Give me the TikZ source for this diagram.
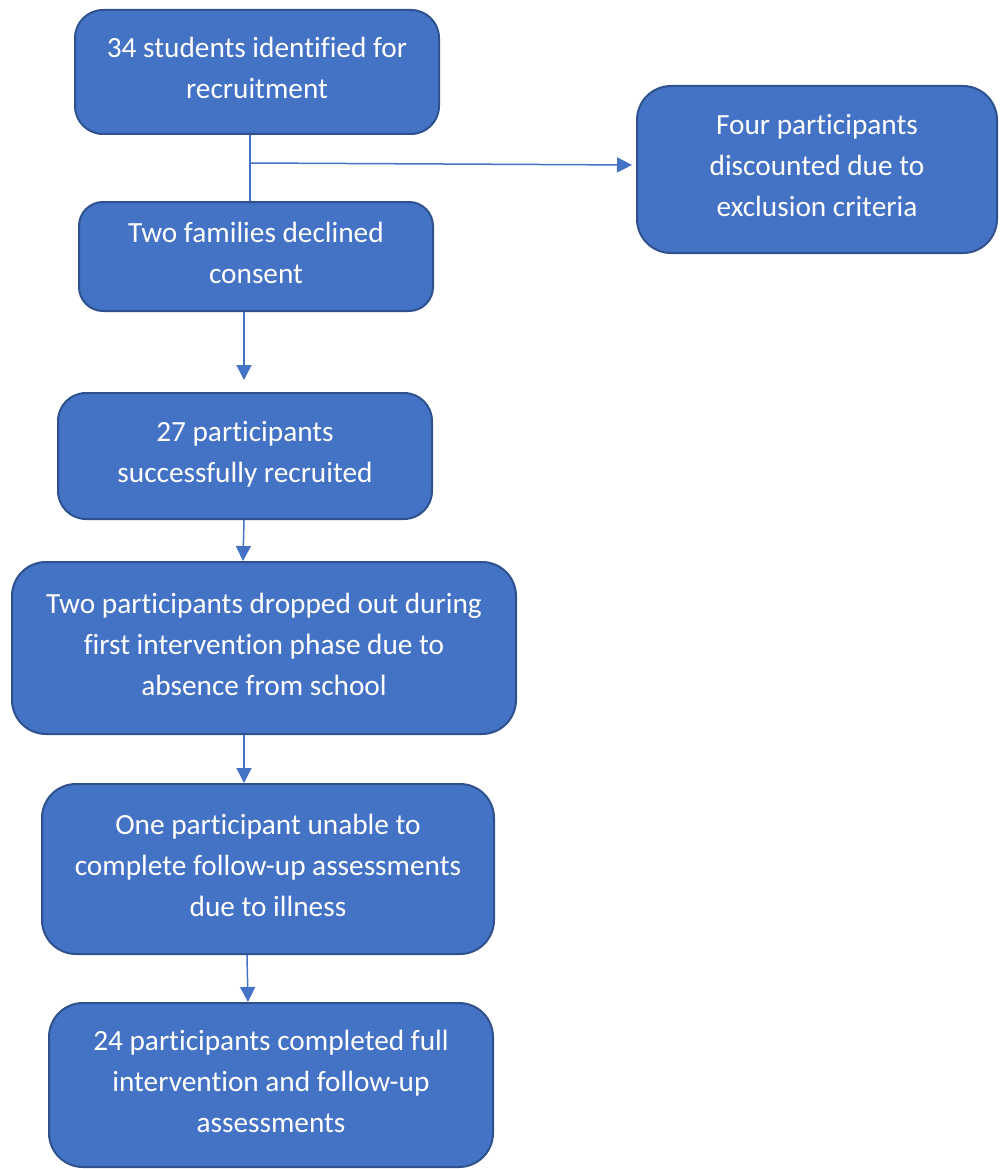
\documentclass[tikz,border=0pt]{standalone}
\usepackage{fontspec}
\setmainfont{Carlito}[Ligatures=NoCommon]
\usetikzlibrary{arrows.meta}
\definecolor{boxfill}{HTML}{4472C4}
\definecolor{boxedge}{HTML}{2F528F}
\definecolor{linkcol}{HTML}{4472C4}
\newcommand{\boxlines}[1]{\raisebox{2pt}[\height][\depth]{\begin{tabular}{@{}c@{}}#1\end{tabular}}}
\tikzset{
  flowbox/.style={draw=boxedge, fill=boxfill, line width=2pt, text=white,
    inner sep=0pt,
    font=\fontsize{29.3pt}{41pt}\selectfont},
  link/.style={draw=linkcol, line width=1.5pt},
  arrowlink/.style={link, -{Triangle[length=15pt,width=15pt]}}
}
\begin{document}
\begin{tikzpicture}[x=1pt,y=-1pt]
\useasboundingbox (0,0) rectangle (1004,1169);
\node[flowbox, minimum width=364pt, minimum height=124pt, rounded corners=28pt] (b1) at (257,72)
  {\boxlines{34 students identified for\\recruitment}};
\node[flowbox, minimum width=360pt, minimum height=167pt, rounded corners=34pt] (b2) at (817,169.5)
  {\boxlines{Four participants\\discounted due to\\exclusion criteria}};
\node[flowbox, minimum width=354pt, minimum height=109pt, rounded corners=24pt] (b3) at (256,256.5)
  {\boxlines{Two families declined\\consent}};
\node[flowbox, minimum width=374pt, minimum height=126pt, rounded corners=28pt] (b4) at (245,456)
  {\boxlines{27 participants\\successfully recruited}};
\node[flowbox, minimum width=504pt, minimum height=172pt, rounded corners=34pt] (b5) at (264,648)
  {\boxlines{Two participants dropped out during\\first intervention phase due to\\absence from school}};
\node[flowbox, minimum width=452pt, minimum height=170pt, rounded corners=34pt] (b6) at (268,869)
  {\boxlines{One participant unable to\\complete follow-up assessments\\due to illness}};
\node[flowbox, minimum width=444pt, minimum height=164pt, rounded corners=34pt] (b7) at (271,1085)
  {\boxlines{24 participants completed full\\intervention and follow-up\\assessments}};
\coordinate (j) at (250,163);
\draw[link] ([xshift=-7pt]b1.south) -- ([xshift=-6pt]b3.north);
\draw[arrowlink, shorten >=4pt] (j) -- ([yshift=4.5pt]b2.west);
\draw[arrowlink, shorten >=12pt] ([xshift=-12pt]b3.south) -- ([xshift=-1pt]b4.north);
\draw[arrowlink] ([xshift=-1pt]b4.south) -- ([xshift=-21pt]b5.north);
\draw[arrowlink] ([xshift=-20pt]b5.south) -- ([xshift=-24pt]b6.north);
\draw[arrowlink] ([xshift=-21pt]b6.south) -- ([xshift=-23pt]b7.north);
\end{tikzpicture}
\end{document}
